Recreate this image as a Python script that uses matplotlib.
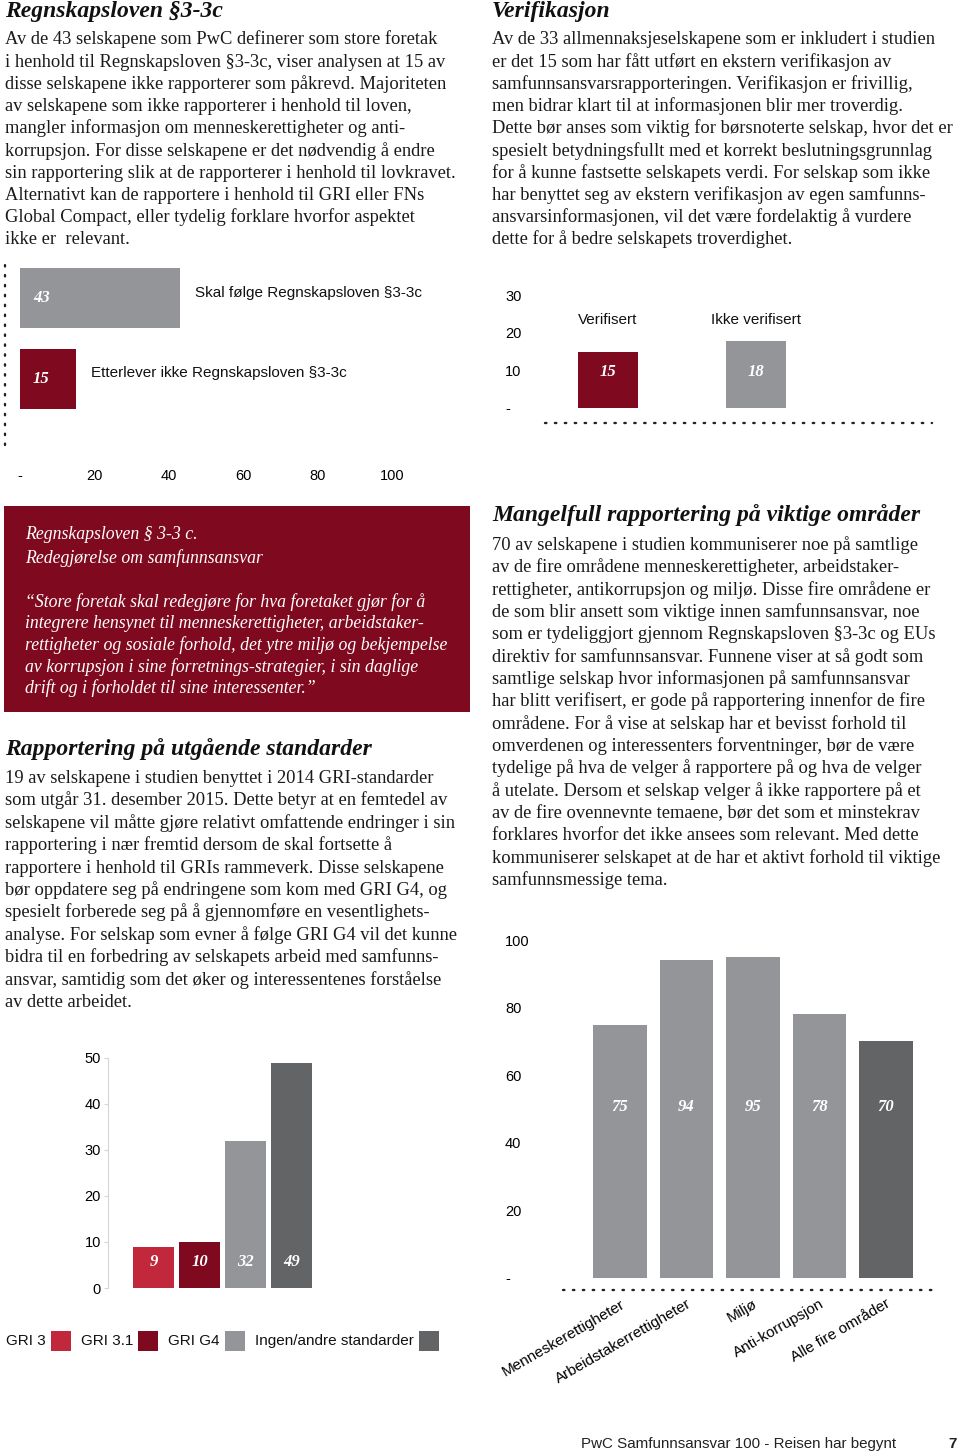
import matplotlib
matplotlib.use('Agg')
import matplotlib.pyplot as plt
from matplotlib.patches import Rectangle

W, H = 960, 1456
SERIF = ['Liberation Serif', 'DejaVu Serif']
SANS = ['Liberation Sans', 'DejaVu Sans']
plt.rcParams['font.family'] = SANS

RED_DARK = '#7f0a1f'
RED = '#c1283b'
GRAY = '#939598'
DGRAY = '#636466'

# ---------------- data ----------------
law_labels = ['Skal følge Regnskapsloven §3-3c', 'Etterlever ikke Regnskapsloven §3-3c']
law_values = [43, 15]
law_colors = [GRAY, RED_DARK]
law_ticks = [0, 20, 40, 60, 80, 100]
law_tick_labels = ['-', '20', '40', '60', '80', '100']

verif_labels = ['Verifisert', 'Ikke verifisert']
verif_values = [15, 18]
verif_colors = [RED_DARK, GRAY]
verif_ticks = [0, 10, 20, 30]
verif_tick_labels = ['-', '10', '20', '30']

gri_labels = ['GRI 3', 'GRI 3.1', 'GRI G4', 'Ingen/andre standarder']
gri_values = [9, 10, 32, 49]
gri_colors = [RED, RED_DARK, GRAY, DGRAY]
gri_ticks = [0, 10, 20, 30, 40, 50]

area_labels = ['Menneskerettigheter', 'Arbeidstakerrettigheter', 'Miljø',
               'Anti-korrupsjon', 'Alle fire områder']
area_values = [75, 94, 95, 78, 70]
area_colors = [GRAY, GRAY, GRAY, GRAY, DGRAY]
area_ticks = [0, 20, 40, 60, 80, 100]
area_tick_labels = ['-', '20', '40', '60', '80', '100']

head1 = 'Regnskapsloven §3-3c'
text1 = [
    'Av de 43 selskapene som PwC definerer som store foretak',
    'i henhold til Regnskapsloven §3-3c, viser analysen at 15 av',
    'disse selskapene ikke rapporterer som påkrevd. Majoriteten',
    'av selskapene som ikke rapporterer i henhold til loven,',
    'mangler informasjon om menneskerettigheter og anti-',
    'korrupsjon. For disse selskapene er det nødvendig å endre',
    'sin rapportering slik at de rapporterer i henhold til lovkravet.',
    'Alternativt kan de rapportere i henhold til GRI eller FNs',
    'Global Compact, eller tydelig forklare hvorfor aspektet',
    'ikke er  relevant.',
]
head2 = 'Verifikasjon'
text2 = [
    'Av de 33 allmennaksjeselskapene som er inkludert i studien',
    'er det 15 som har fått utført en ekstern verifikasjon av',
    'samfunnsansvarsrapporteringen. Verifikasjon er frivillig,',
    'men bidrar klart til at informasjonen blir mer troverdig.',
    'Dette bør anses som viktig for børsnoterte selskap, hvor det er',
    'spesielt betydningsfullt med et korrekt beslutningsgrunnlag',
    'for å kunne fastsette selskapets verdi. For selskap som ikke',
    'har benyttet seg av ekstern verifikasjon av egen samfunns-',
    'ansvarsinformasjonen, vil det være fordelaktig å vurdere',
    'dette for å bedre selskapets troverdighet.',
]
box_head = ['Regnskapsloven § 3-3 c.', 'Redegjørelse om samfunnsansvar']
box_quote = [
    '“Store foretak skal redegjøre for hva foretaket gjør for å',
    'integrere hensynet til menneskerettigheter, arbeidstaker-',
    'rettigheter og sosiale forhold, det ytre miljø og bekjempelse',
    'av korrupsjon i sine forretnings-strategier, i sin daglige',
    'drift og i forholdet til sine interessenter.”',
]
head3 = 'Rapportering på utgående standarder'
text3 = [
    '19 av selskapene i studien benyttet i 2014 GRI-standarder',
    'som utgår 31. desember 2015. Dette betyr at en femtedel av',
    'selskapene vil måtte gjøre relativt omfattende endringer i sin',
    'rapportering i nær fremtid dersom de skal fortsette å',
    'rapportere i henhold til GRIs rammeverk. Disse selskapene',
    'bør oppdatere seg på endringene som kom med GRI G4, og',
    'spesielt forberede seg på å gjennomføre en vesentlighets-',
    'analyse. For selskap som evner å følge GRI G4 vil det kunne',
    'bidra til en forbedring av selskapets arbeid med samfunns-',
    'ansvar, samtidig som det øker og interessentenes forståelse',
    'av dette arbeidet.',
]
head4 = 'Mangelfull rapportering på viktige områder'
text4 = [
    '70 av selskapene i studien kommuniserer noe på samtlige',
    'av de fire områdene menneskerettigheter, arbeidstaker-',
    'rettigheter, antikorrupsjon og miljø. Disse fire områdene er',
    'de som blir ansett som viktige innen samfunnsansvar, noe',
    'som er tydeliggjort gjennom Regnskapsloven §3-3c og EUs',
    'direktiv for samfunnsansvar. Funnene viser at så godt som',
    'samtlige selskap hvor informasjonen på samfunnsansvar',
    'har blitt verifisert, er gode på rapportering innenfor de fire',
    'områdene. For å vise at selskap har et bevisst forhold til',
    'omverdenen og interessenters forventninger, bør de være',
    'tydelige på hva de velger å rapportere på og hva de velger',
    'å utelate. Dersom et selskap velger å ikke rapportere på et',
    'av de fire ovennevnte temaene, bør det som et minstekrav',
    'forklares hvorfor det ikke ansees som relevant. Med dette',
    'kommuniserer selskapet at de har et aktivt forhold til viktige',
    'samfunnsmessige tema.',
]
footer = 'PwC Samfunnsansvar 100 - Reisen har begynt'
page_no = '7'

# ---------------- helpers ----------------
fig = plt.figure(figsize=(W / 100, H / 100), dpi=100)
fig.patch.set_facecolor('white')


def fx(x):
    return x / W


def fy(y):
    return 1 - y / H


def ptext(x, y, s, **kw):
    return fig.text(fx(x), fy(y), s, **kw)


def add_ax(l, t, r, b):
    return fig.add_axes([l / W, 1 - b / H, (r - l) / W, (b - t) / H])


def dotted(spine):
    spine.set_linestyle((0, (0.6, 3.6)))
    spine.set_linewidth(1.7)
    spine.set_capstyle('round')
    spine.set_color('#222222')


BODY = dict(family=SERIF, fontsize=13.3, color='#1a1a1a', va='baseline')
HEAD = dict(family=SERIF, fontsize=17, fontstyle='italic', fontweight='bold',
            color='#111111', va='baseline')
NUM = dict(family=SERIF, fontsize=12, fontstyle='italic', fontweight='bold',
           color='white', va='center')
LAB = dict(fontsize=11, color='#111111')


def para(x, y0, lines, pitch, **kw):
    for i, line in enumerate(lines):
        ptext(x, y0 + i * pitch, line, **kw)


# ---------------- text blocks ----------------
ptext(5, 17.5, head1, **HEAD)
para(5, 44.5, text1, 22.2, **BODY)
ptext(492, 17.5, head2, **HEAD)
para(492, 44.5, text2, 22.2, **BODY)

fig.add_artist(Rectangle((fx(4), fy(712)), 466 / W, 206 / H, transform=fig.transFigure,
                         facecolor=RED_DARK, edgecolor='none', zorder=0))
BOX = dict(family=SERIF, fontsize=12.8, fontstyle='italic', color='white', va='baseline')
para(25, 539, box_head, 23.5, **BOX)
para(25, 607, box_quote, 21.5, **BOX)

ptext(5, 755, head3, **HEAD)
para(5, 783, text3, 22.4, **BODY)
ptext(492, 521, head4, **HEAD)
para(492, 550, text4, 22.33, **BODY)

ptext(581, 1444, footer, va='center', fontsize=10.9, color='#222222')
ptext(953, 1444, page_no, va='center', ha='center', fontsize=11, fontweight='bold',
      color='#222222')

# ---------------- chart 1: Regnskapsloven (horizontal bars) ----------------
ax1 = add_ax(5, 262, 441, 445)
ax1.barh(range(len(law_values)), law_values, height=0.745, color=law_colors)
ax1.set_xlim(-4, 113)
ax1.set_ylim(1.82, -0.453)
for s in ['top', 'right', 'bottom']:
    ax1.spines[s].set_visible(False)
dotted(ax1.spines['left'])
ax1.set_yticks([])
ax1.set_xticks(law_ticks, law_tick_labels)
ax1.tick_params(axis='x', length=0, pad=17, labelsize=10.5)
for i, (v, lbl) in enumerate(zip(law_values, law_labels)):
    ax1.text(3.5, i, str(v), ha='left', **NUM)
    ax1.annotate(lbl, (v, i), xytext=(11, 4), textcoords='offset points',
                 ha='left', va='center', **LAB)

# ---------------- chart 2: Verifikasjon ----------------
ax2 = add_ax(545, 285, 932, 408)
ax2.bar(range(len(verif_values)), verif_values, width=0.405, color=verif_colors)
ax2.set_xlim(-0.4257, 2.189)
ax2.set_ylim(0, 32.8)
for s in ['top', 'right', 'left']:
    ax2.spines[s].set_visible(False)
ax2.spines['bottom'].set_position(('outward', 10.8))
dotted(ax2.spines['bottom'])
ax2.set_xticks([])
ax2.set_yticks(verif_ticks, verif_tick_labels)
ax2.tick_params(axis='y', length=0, pad=28.8, labelsize=10.5)
for t in ax2.get_yticklabels():
    t.set_ha('left')
for i, (v, lbl) in enumerate(zip(verif_values, verif_labels)):
    ax2.text(i, 23.5, lbl, ha='center', va='center', **LAB)
    ax2.text(i, 9.6, str(v), ha='center', **NUM)

# ---------------- chart 3: GRI ----------------
ax3 = add_ax(108, 1051, 340, 1288)
ax3.bar(range(len(gri_values)), gri_values, width=0.89, color=gri_colors)
ax3.set_xlim(-0.99, 4.05)
ax3.set_ylim(0, 51.5)
for s in ['top', 'right', 'bottom']:
    ax3.spines[s].set_visible(False)
ax3.spines['left'].set_color('#d6d6d6')
ax3.spines['left'].set_bounds(0, 50)
ax3.set_xticks([])
ax3.set_yticks(gri_ticks)
ax3.tick_params(axis='y', length=3, color='#d6d6d6', pad=2, labelsize=10.5)
for i, v in enumerate(gri_values):
    ax3.text(i, 5.6, str(v), ha='center', **NUM)

renderer = fig.canvas.get_renderer()
x = 6
for lbl, c in zip(gri_labels, gri_colors):
    t = ptext(x, 1341, lbl, va='center', **LAB)
    bb = t.get_window_extent(renderer=renderer)
    sx = bb.x1 + 5
    fig.add_artist(Rectangle((fx(sx), fy(1351)), 20 / W, 20 / H,
                             transform=fig.transFigure, facecolor=c, edgecolor='none'))
    x = sx + 20 + 10

# ---------------- chart 4: areas ----------------
ax4 = add_ax(563, 930, 933, 1278)
ax4.bar(range(len(area_values)), area_values, width=0.81, color=area_colors)
ax4.set_xlim(-0.857, 4.707)
ax4.set_ylim(0, 103)
for s in ['top', 'right', 'left']:
    ax4.spines[s].set_visible(False)
ax4.spines['bottom'].set_position(('outward', 8.6))
dotted(ax4.spines['bottom'])
ax4.set_yticks(area_ticks, area_tick_labels)
ax4.tick_params(axis='y', length=0, pad=41.8, labelsize=10.5)
for t in ax4.get_yticklabels():
    t.set_ha('left')
ax4.set_xticks(range(len(area_labels)))
ax4.set_xticklabels(area_labels, rotation=30, ha='right', va='top',
                    rotation_mode='anchor', fontsize=11)
ax4.tick_params(axis='x', length=0, pad=5)
for i, v in enumerate(area_values):
    ax4.text(i, 50.6, str(v), ha='center', **NUM)

fig.savefig('out.png', dpi=100, facecolor='white')
